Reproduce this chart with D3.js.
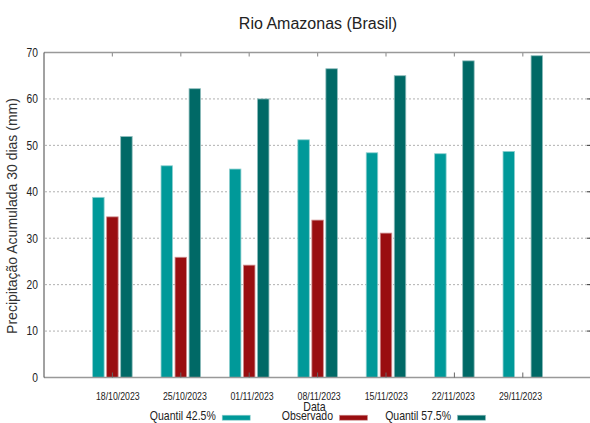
<!DOCTYPE html>
<html>
<head>
<meta charset="utf-8">
<script src="https://cdn.jsdelivr.net/npm/d3@7"></script>
<style>
html, body { margin: 0; padding: 0; background: #fff; }
svg { display: block; }
</style>
</head>
<body>
<svg id="chart" width="590" height="423"></svg>
<script>
const dates = ["18/10/2023","25/10/2023","01/11/2023","08/11/2023","15/11/2023","22/11/2023","29/11/2023"];
const q425 = [38.8, 45.6, 44.9, 51.2, 48.4, 48.2, 48.7];
const observado = [34.6, 25.9, 24.2, 33.9, 31.1, null, null];
const q575 = [51.9, 62.2, 60.0, 66.5, 65.0, 68.2, 69.3];
const yTicks = [0, 10, 20, 30, 40, 50, 60, 70];
const seriesNames = ["Quantil 42.5%", "Observado", "Quantil 57.5%"];
const seriesColors = ["#009999", "#990e10", "#006966"];
const seriesEdge = ["#8fd0d0", "#d08f90", "#8fbdbd"];

const svg = d3.select("#chart");
const pL = 44, pR = 591.2, pT = 52.5, pB = 377.5;
const regular = "'Liberation Sans', Arial, sans-serif";
const NX = 0.82; // narrow horizontal compression

function narrowText(sel, px, py, size, anchor, txt) {
  return sel.append("text")
    .attr("transform", `translate(${px},${py}) scale(${NX},1)`)
    .attr("text-anchor", anchor).attr("font-family", regular).attr("font-size", size)
    .attr("fill", "#222").text(txt);
}

const x = d3.scaleLinear().domain([0, dates.length + 1]).range([pL, pR]);
const xLab = d3.scaleLinear().domain([1, dates.length]).range([117.8, 520.5]);
const y = d3.scaleLinear().domain([0, 70]).range([pB, pT]);

// gridlines
svg.append("g").selectAll("line").data(yTicks.filter(d => d > 0 && d < 70)).join("line")
  .attr("x1", pL + 1).attr("x2", 590).attr("y1", d => y(d)).attr("y2", d => y(d))
  .attr("stroke", "#b0b0b0").attr("stroke-width", 1).attr("stroke-dasharray", "2,2");
// right ticks
svg.append("g").selectAll("line").data(yTicks.filter(d => d > 0 && d < 70)).join("line")
  .attr("x1", 587).attr("x2", 590).attr("y1", d => y(d)).attr("y2", d => y(d))
  .attr("stroke", "#333").attr("stroke-width", 1);

// bars
const series = [q425, observado, q575];
const off = [-0.205, 0, 0.205];
const bw = 11.5;
series.forEach((vals, s) => {
  svg.append("g").selectAll("rect")
    .data(vals.map((v, i) => ({v, i})).filter(d => d.v != null))
    .join("rect")
    .attr("x", d => x(d.i + 1 + off[s]) - bw / 2)
    .attr("width", bw)
    .attr("y", d => y(d.v))
    .attr("height", d => y(0) - y(d.v))
    .attr("fill", seriesColors[s])
    .attr("stroke", seriesEdge[s])
    .attr("stroke-width", 0.8);
});

// frame
svg.append("line").attr("x1", pL).attr("x2", 590).attr("y1", pT).attr("y2", pT)
  .attr("stroke", "#999").attr("stroke-width", 1.5);
svg.append("line").attr("x1", pL).attr("x2", 590).attr("y1", pB).attr("y2", pB)
  .attr("stroke", "#999").attr("stroke-width", 1.5);
svg.append("line").attr("x1", pL).attr("x2", pL).attr("y1", pT).attr("y2", pB)
  .attr("stroke", "#444").attr("stroke-width", 1);

// top & bottom ticks at group centers
svg.append("g").selectAll("line").data(dates).join("line")
  .attr("x1", (d, i) => x(i + 1)).attr("x2", (d, i) => x(i + 1))
  .attr("y1", pT).attr("y2", pT + 4).attr("stroke", "#999").attr("stroke-width", 1.2);
svg.append("g").selectAll("line").data(dates).join("line")
  .attr("x1", (d, i) => x(i + 1)).attr("x2", (d, i) => x(i + 1))
  .attr("y1", pB).attr("y2", pB - 5).attr("stroke", "#666").attr("stroke-width", 1);

// y tick labels
const gy = svg.append("g");
yTicks.forEach(t => narrowText(gy, 38, y(t) + 4.3, 12.5, "end", t));

// x tick labels
const gx = svg.append("g");
dates.forEach((d, i) => narrowText(gx, xLab(i + 1), 399.5, 10.7, "middle", d));

// titles
svg.append("text").attr("x", 318).attr("y", 28.5).attr("text-anchor", "middle")
  .attr("font-family", regular).attr("font-size", 16).attr("fill", "#222")
  .text("Rio Amazonas (Brasil)");
narrowText(svg, 314.5, 411, 13, "middle", "Data");
svg.append("text").attr("transform", "translate(17,216) rotate(-90)")
  .attr("text-anchor", "middle").attr("font-family", regular).attr("font-size", 14)
  .attr("fill", "#333").text("Precipitação Acumulada 30 dias (mm)");

// legend
const legEnd = [215.7, 333, 451];
seriesNames.forEach((n, s) => {
  narrowText(svg, legEnd[s], 420.2, 12.8, "end", n);
  svg.append("rect").attr("x", legEnd[s] + 6.5).attr("y", 415.2).attr("width", 28).attr("height", 5)
    .attr("fill", seriesColors[s]).attr("stroke", seriesEdge[s]).attr("stroke-width", 0.6);
});
</script>
</body>
</html>
